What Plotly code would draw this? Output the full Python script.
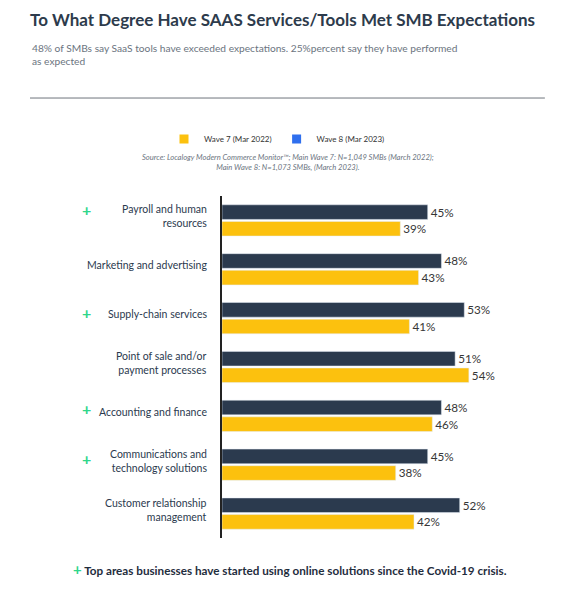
import plotly.graph_objects as go

categories = [
    "Payroll and human<br>resources",
    "Marketing and advertising",
    "Supply-chain services",
    "Point of sale and/or<br>payment processes",
    "Accounting and finance",
    "Communications and<br>technology solutions",
    "Customer relationship<br>management",
]
wave8 = [45, 48, 53, 51, 48, 45, 52]
wave7 = [39, 43, 41, 54, 46, 38, 42]
# categories marked with a green plus
plus_marked = [True, False, True, False, True, True, False]
plus_shift = [11, 0, 6, 0, 7, 6, 0]

NAVY = "#2b3a4e"
YELLOW = "#fcc10e"
GREEN = "#2fd68b"
FONT = "Lato"

# page body has an 8px margin, so the figure is drawn 8px smaller
W, H = 578, 593

fig = go.Figure()
fig.add_trace(go.Bar(
    y=categories, x=wave8, orientation="h", name="Wave 8 (Mar 2023)",
    marker_color=NAVY, text=[f"{v}%" for v in wave8], textposition="outside",
    showlegend=False, cliponaxis=False,
))
fig.add_trace(go.Bar(
    y=categories, x=wave7, orientation="h", name="Wave 7 (Mar 2022)",
    marker_color=YELLOW, text=[f"{v}%" for v in wave7], textposition="outside",
    showlegend=False, cliponaxis=False,
))
# legend-only entries (legend uses a brighter blue than the bars)
fig.add_trace(go.Scatter(x=[None], y=[None], mode="markers", name="Wave 7 (Mar 2022)",
                         marker=dict(symbol="square", size=9, color=YELLOW)))
fig.add_trace(go.Scatter(x=[None], y=[None], mode="markers", name="Wave 8 (Mar 2023)",
                         marker=dict(symbol="square", size=9, color="#2f6fee")))

fig.update_traces(textfont=dict(size=12, color="#363636", family=FONT), selector=dict(type="bar"))

annotations = []
for cat, marked, dy in zip(categories, plus_marked, plus_shift):
    annotations.append(dict(
        x=-0.0406, xref="paper", y=cat, yref="y", text=cat, showarrow=False,
        xanchor="right", align="right", yshift=4,
        font=dict(size=10.5, color="#2b3a4e", family=FONT),
    ))
    if marked:
        annotations.append(dict(
            x=-0.425, xref="paper", y=cat, yref="y", text="<b>+</b>", showarrow=False,
            xanchor="center", font=dict(size=16, color=GREEN, family=FONT), yshift=dy,
        ))

annotations += [
    dict(x=-0.6, xref="paper", y=1.455, yref="paper", xanchor="left", yanchor="top",
         align="left", showarrow=False,
         text="48% of SMBs say SaaS tools have exceeded expectations. 25%percent say they have performed<br>as expected",
         font=dict(size=10.2, color="#6b7480", family=FONT)),
    dict(x=0.206, xref="paper", y=1.099, yref="paper", showarrow=False, align="center",
         xanchor="center", yanchor="middle",
         text="<i>Source: Localogy Modern Commerce Monitor\u2122; Main Wave 7: N=1,049 SMBs (March 2022);<br>"
              "Main Wave 8: N=1,073 SMBs, (March 2023).</i>",
         font=dict(size=7.6, color="#6b7480", family=FONT)),
    dict(x=0.2125, xref="paper", y=-0.0906, yref="paper", showarrow=False,
         xanchor="center", yanchor="middle",
         text=f"<b><span style='color:{GREEN};font-size:15px'>+</span> Top areas businesses have started using online solutions since the Covid-19 crisis.</b>",
         font=dict(size=11.7, color="#1f2d3d", family=FONT)),
]

fig.update_layout(
    width=W, height=H,
    margin=dict(l=214, r=44, t=188, b=63),
    paper_bgcolor="white", plot_bgcolor="white",
    barmode="group", bargap=0.32, bargroupgap=0.12,
    font=dict(family=FONT, color="#2b3a4e"),
    title=dict(text="<b>To What Degree Have SAAS Services/Tools Met SMB Expectations</b>",
               xref="container", yref="container", x=22 / W, y=1 - 12 / H,
               xanchor="left", yanchor="middle",
               font=dict(size=17, color="#2d3b4c", family=FONT)),
    legend=dict(orientation="h", xref="container", yref="container",
                x=269 / W, y=1 - 131 / H, xanchor="center", yanchor="middle",
                font=dict(size=8, color="#333", family=FONT), itemwidth=30,
                traceorder="normal"),
    xaxis=dict(range=[0, 70], visible=False),
    yaxis=dict(autorange="reversed", showline=True, linecolor="#222", linewidth=1.5,
               ticks="", showticklabels=False, showgrid=False),
    annotations=annotations,
    shapes=[dict(type="line", xref="paper", yref="paper", x0=-0.6, x1=1.009,
                 y0=1.2865, y1=1.2865, line=dict(color="#6e757c", width=1))],
)

fig.write_html("out.html")
